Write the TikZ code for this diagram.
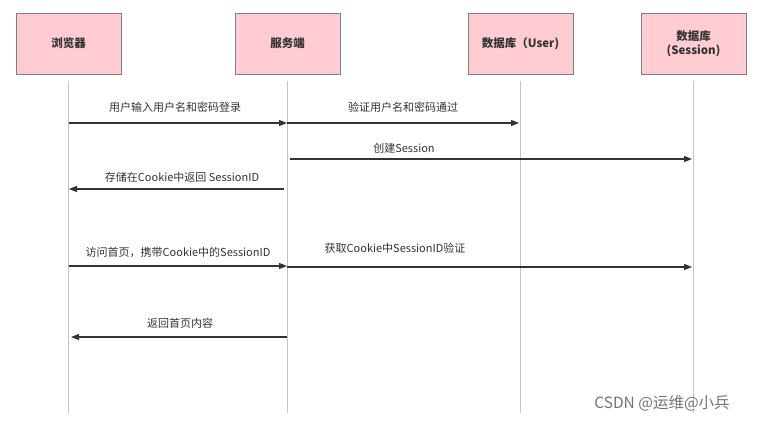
\documentclass[tikz,border=0pt]{standalone}
\usepackage{fontspec}
\setmainfont{Noto Sans CJK SC}
\usetikzlibrary{arrows.meta}

\definecolor{boxfill}{HTML}{FFCCD4}
\definecolor{boxline}{HTML}{7F7F7F}
\definecolor{lifeline}{HTML}{C4C4C4}
\definecolor{msgline}{HTML}{333333}

\tikzset{every picture/.style={line width=0.75pt}}
\tikzset{
  actor/.style={draw=boxline, fill=boxfill, line width=1pt, minimum width=105pt, minimum height=61pt, inner sep=0pt, align=center, font=\fontsize{11.5}{14}\selectfont\bfseries, text=black!80},
  life/.style={draw=lifeline, line width=0.9pt},
  msg/.style={draw=msgline, line width=1.3pt, -{Triangle[length=8pt,width=6pt]}},
  msglabel/.style={inner sep=0.75pt, font=\fontsize{11}{12}\selectfont, text=black!80}
}

\begin{document}
\begin{tikzpicture}[x=1pt,y=1pt,yscale=-1,xscale=1]
        \useasboundingbox (0,0) rectangle (759,423);

        % Actors
        \node [actor] (browser) at (68.5,43.5) {浏览器};
        \node [actor] (server) at (287.5,43.5) {服务端};
        \node [actor] (dbuser) at (520.5,43.5) {数据库（User)};
        \node [actor] (dbsession) at (693.5,43.5) {数据库\\(Session)};

        % Lifelines
        \coordinate (browserTop) at (68,81);
        \coordinate (browserEnd) at (68,413);
        \coordinate (serverTop) at (287,81);
        \coordinate (serverEnd) at (287,413);
        \coordinate (dbuserTop) at (520,81);
        \coordinate (dbuserEnd) at (520,413);
        \coordinate (dbsessionTop) at (693,81);
        \coordinate (dbsessionEnd) at (693,413);
        \draw [life] (browserTop) -- (browserEnd);
        \draw [life] (serverTop) -- (serverEnd);
        \draw [life] (dbuserTop) -- (dbuserEnd);
        \draw [life] (dbsessionTop) -- (dbsessionEnd);

        % Message ends
        \coordinate (m1a) at (69,123);
        \coordinate (m1b) at (287,123);
        \coordinate (m2a) at (287,123);
        \coordinate (m2b) at (519,123);
        \coordinate (m3a) at (290,159);
        \coordinate (m3b) at (692,159);
        \coordinate (m4a) at (284,189);
        \coordinate (m4b) at (69,189);
        \coordinate (m5a) at (69,266);
        \coordinate (m5b) at (287,266);
        \coordinate (m6a) at (287,267);
        \coordinate (m6b) at (692,267);
        \coordinate (m7a) at (287,337);
        \coordinate (m7b) at (71,337);

        % Messages
        \draw [msg] (m1a) -- (m1b);
        \draw [msg] (m2a) -- (m2b);
        \draw [msg] (m3a) -- (m3b);
        \draw [msg] (m4a) -- (m4b);
        \draw [msg] (m5a) -- (m5b);
        \draw [msg] (m6a) -- (m6b);
        \draw [msg] (m7a) -- (m7b);

        % Text Node
        \node [msglabel] (t1) at (175,107) {用户输入用户名和密码登录};
        % Text Node
        \node [msglabel] (t2) at (403,107) {验证用户名和密码通过};
        % Text Node
        \node [msglabel] (t3) at (404,148) {创建Session};
        % Text Node
        \node [msglabel] (t4) at (182,177) {存储在Cookie中返回 SessionID};
        % Text Node
        \node [msglabel] (t5) at (178,252) {访问首页，携带Cookie中的SessionID};
        % Text Node
        \node [msglabel] (t6) at (395,248) {获取Cookie中SessionID验证};
        % Text Node
        \node [msglabel] (t7) at (180,323) {返回首页内容};

        % Watermark
        \node [inner sep=0pt, font=\fontsize{15.5}{17}\selectfont, text=black!55] (mark) at (662,403) {CSDN @运维@小兵};
\end{tikzpicture}
\end{document}
